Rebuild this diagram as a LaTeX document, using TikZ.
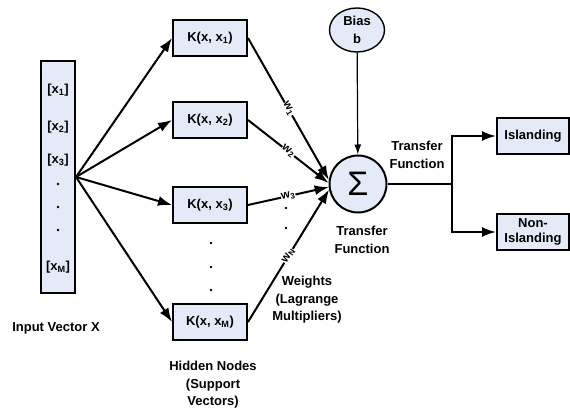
\documentclass[tikz,border=0pt]{standalone}
\usepackage{fontspec}
\setmainfont{Liberation Sans}
\usetikzlibrary{arrows.meta,shapes.geometric}
\definecolor{caixaazul}{RGB}{228,234,247}
\begin{document}
\begin{tikzpicture}[x=1pt, y=-1pt,
  every node/.style={font=\fontsize{13}{17.5}\selectfont\bfseries},
  >={Latex[length=14pt,width=10pt]}
]
\tikzset{
  kbox/.style={draw, line width=2pt, fill=caixaazul, minimum width=74pt, minimum height=36pt, inner sep=0pt},
  seta/.style={->, line width=2pt},
  wlbl/.style={sloped, fill=white, inner sep=0.3pt, font=\fontsize{11.5}{11.5}\selectfont\bfseries},
  ponto/.style={circle, fill, inner sep=0pt, minimum size=2.6pt}
}
\useasboundingbox (0,0) rectangle (570,409);

% input vector
\node[kbox, minimum width=34pt, minimum height=232pt] (inp) at (58,177) {};
\node (x1) at (58,90) {[x\textsubscript{1}]};
\node (x2) at (58,127) {[x\textsubscript{2}]};
\node (x3) at (58,160) {[x\textsubscript{3}]};
\node[ponto] (p1) at (58,184) {};
\node[ponto] (p2) at (58,207) {};
\node[ponto] (p3) at (58,230) {};
\node (xM) at (58,267) {[x\textsubscript{M}]};
\node (invec) at (56,328) {Input Vector X};

% hidden nodes
\node[kbox] (k1) at (210,38) {K(x, x\textsubscript{1})};
\node[kbox] (k2) at (210,120) {K(x, x\textsubscript{2})};
\node[kbox] (k3) at (210,205) {K(x, x\textsubscript{3})};
\node[kbox] (kM) at (210,322) {K(x, x\textsubscript{M})};
\node[ponto] (p4) at (211,243) {};
\node[ponto] (p5) at (211,267) {};
\node[ponto] (p6) at (211,290) {};
\node[align=center] (hid) at (213,385) {Hidden Nodes\\(Support\\Vectors)};

% summation and bias
\node[kbox, circle, minimum size=57pt] (sig) at (358,184) {\fontsize{34}{34}\selectfont\mdseries Σ};
\node[draw, ellipse, line width=1.4pt, fill=caixaazul, minimum width=55pt, minimum height=44pt, inner sep=0pt, align=center] (bias) at (357,30) {Bias\\b};
\node[align=center] (tf2) at (362,240) {Transfer\\Function};
\node[align=center] (wts) at (307,300) {Weights\\(Lagrange\\Multipliers)};
\node[ponto] (p7) at (286,208) {};
\node[ponto] (p8) at (286,228) {};

% outputs
\node[kbox, minimum width=72pt, minimum height=35pt] (isl) at (533,136) {Islanding};
\node[kbox, minimum width=72pt, minimum height=36pt, align=center, font=\fontsize{13}{15}\selectfont\bfseries] (nonisl) at (533,232) {Non-\\Islanding};
\node[align=center] (tf1) at (417,155) {Transfer\\Function};
\coordinate (br) at (452,184);

% connectors
\foreach \k in {k1,k2,k3,kM}
  \draw[seta] (inp.east) -- (\k.west);
\draw[seta] (k1.east) -- node[wlbl] {w\textsubscript{1}} (sig.172);
\draw[seta] (k2.east) -- node[wlbl] {w\textsubscript{2}} (sig.178);
\draw[seta] (k3.east) -- node[wlbl] {w\textsubscript{3}} (sig.186);
\draw[seta] (kM.east) -- node[wlbl] {w\textsubscript{N}} (sig.191);
\draw[-{Latex[length=10pt,width=7pt]}, line width=1.2pt] (bias) -- (sig);
\draw[line width=2pt] (sig.east) -- (br);
\draw[seta] (br) |- (isl.west);
\draw[seta] (br) |- (nonisl.west);
\end{tikzpicture}
\end{document}
